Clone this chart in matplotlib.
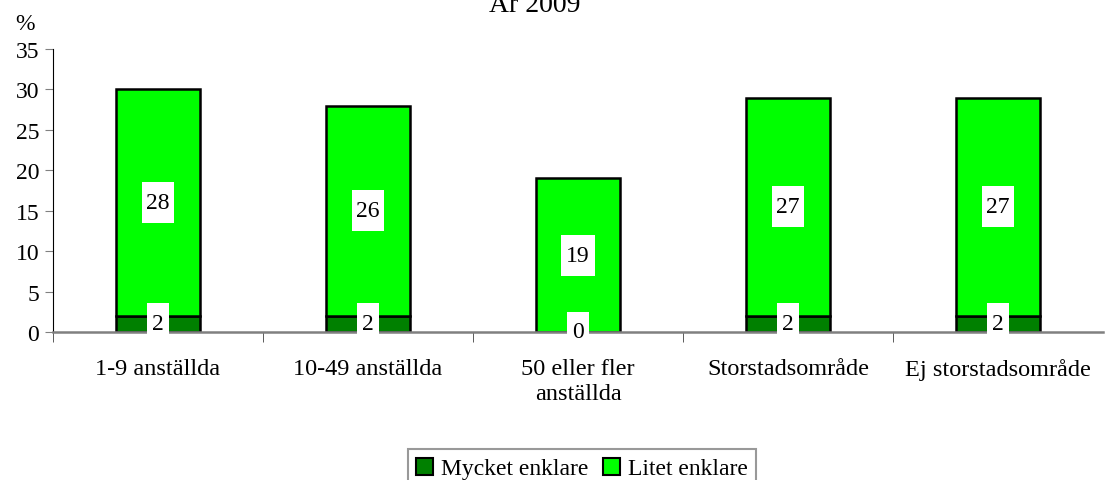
import matplotlib
matplotlib.use("Agg")
import matplotlib.pyplot as plt
from matplotlib.path import Path
import numpy as np

categories = ["1-9 anställda", "10-49 anställda", "50 eller fler\nanställda",
              "Storstadsområde", "Ej storstadsområde"]
mycket = [2, 2, 0, 2, 2]
litet = [28, 26, 19, 27, 27]
series_names = ["Mycket enklare", "Litet enklare"]
title = "År 2009"

plt.rcParams['font.family'] = ['Liberation Serif', 'DejaVu Serif']


def label_box(x0, y0, width, height, mutation_size):
    px = 0.2 * mutation_size
    py = 0.42 * mutation_size
    x0, y0 = x0 - px, y0 - py
    x1, y1 = x0 + width + 2 * px, y0 + height + 2 * py
    return Path([(x0, y0), (x1, y0), (x1, y1), (x0, y1), (x0, y0)], closed=True)


fig = plt.figure(figsize=(11.06, 4.81), dpi=100)
ax = fig.add_axes([53 / 1106, 1 - 333 / 481, 1050 / 1106, 283 / 481])

x = np.arange(len(categories))
w = 0.4
c1, c2 = "#008000", "#00ff00"
ax.bar(x, mycket, w, color=c1, edgecolor="black", linewidth=1.8, label=series_names[0], zorder=2)
ax.bar(x, litet, w, bottom=mycket, color=c2, edgecolor="black", linewidth=1.8, label=series_names[1], zorder=2)

for i in range(len(categories)):
    ax.text(x[i], mycket[i] / 2, str(mycket[i]), ha="center", va="center", fontsize=17,
            bbox=dict(boxstyle=label_box, facecolor="white", edgecolor="none"), zorder=3)
    ax.text(x[i], mycket[i] + litet[i] / 2, str(litet[i]), ha="center", va="center", fontsize=17,
            bbox=dict(boxstyle=label_box, facecolor="white", edgecolor="none"), zorder=3)

ax.set_xlim(-0.5, len(categories) - 0.5)
ax.set_ylim(0, 35)
ax.set_yticks(range(0, 36, 5))
ax.tick_params(axis="y", labelsize=17, length=6, color="#808080", direction="out", pad=4)
ax.set_xticks(x)
ax.set_xticklabels(categories, fontsize=17.5, linespacing=1.2)
ax.tick_params(axis="x", length=0, pad=19)
ax.set_xticks(np.arange(-0.5, len(categories) - 0.5, 1), minor=True)
ax.tick_params(axis="x", which="minor", length=7, color="#404040", direction="out")
for s in ["top", "right"]:
    ax.spines[s].set_visible(False)
ax.spines["left"].set_color("black")
ax.spines["bottom"].set_color("#808080")
ax.spines["bottom"].set_linewidth(1.8)

fig.text(25 / 1106, 1 - 24 / 481, "%", fontsize=17, ha="center", va="center")
fig.text(535 / 1106, 1 - 6 / 481, title, fontsize=20, ha="center", va="center")

leg = fig.legend(loc="lower center", bbox_to_anchor=(582 / 1106, -0.016), ncol=2, fontsize=17,
                 frameon=True, fancybox=False, edgecolor="#808080", handlelength=0.72,
                 handleheight=0.72, handletextpad=0.35, columnspacing=0.6, borderpad=0.35,
                 borderaxespad=0)
leg.get_frame().set_linewidth(1.5)
for h in leg.legend_handles:
    h.set_linewidth(1.5)

fig.savefig("out.png", dpi=100)
